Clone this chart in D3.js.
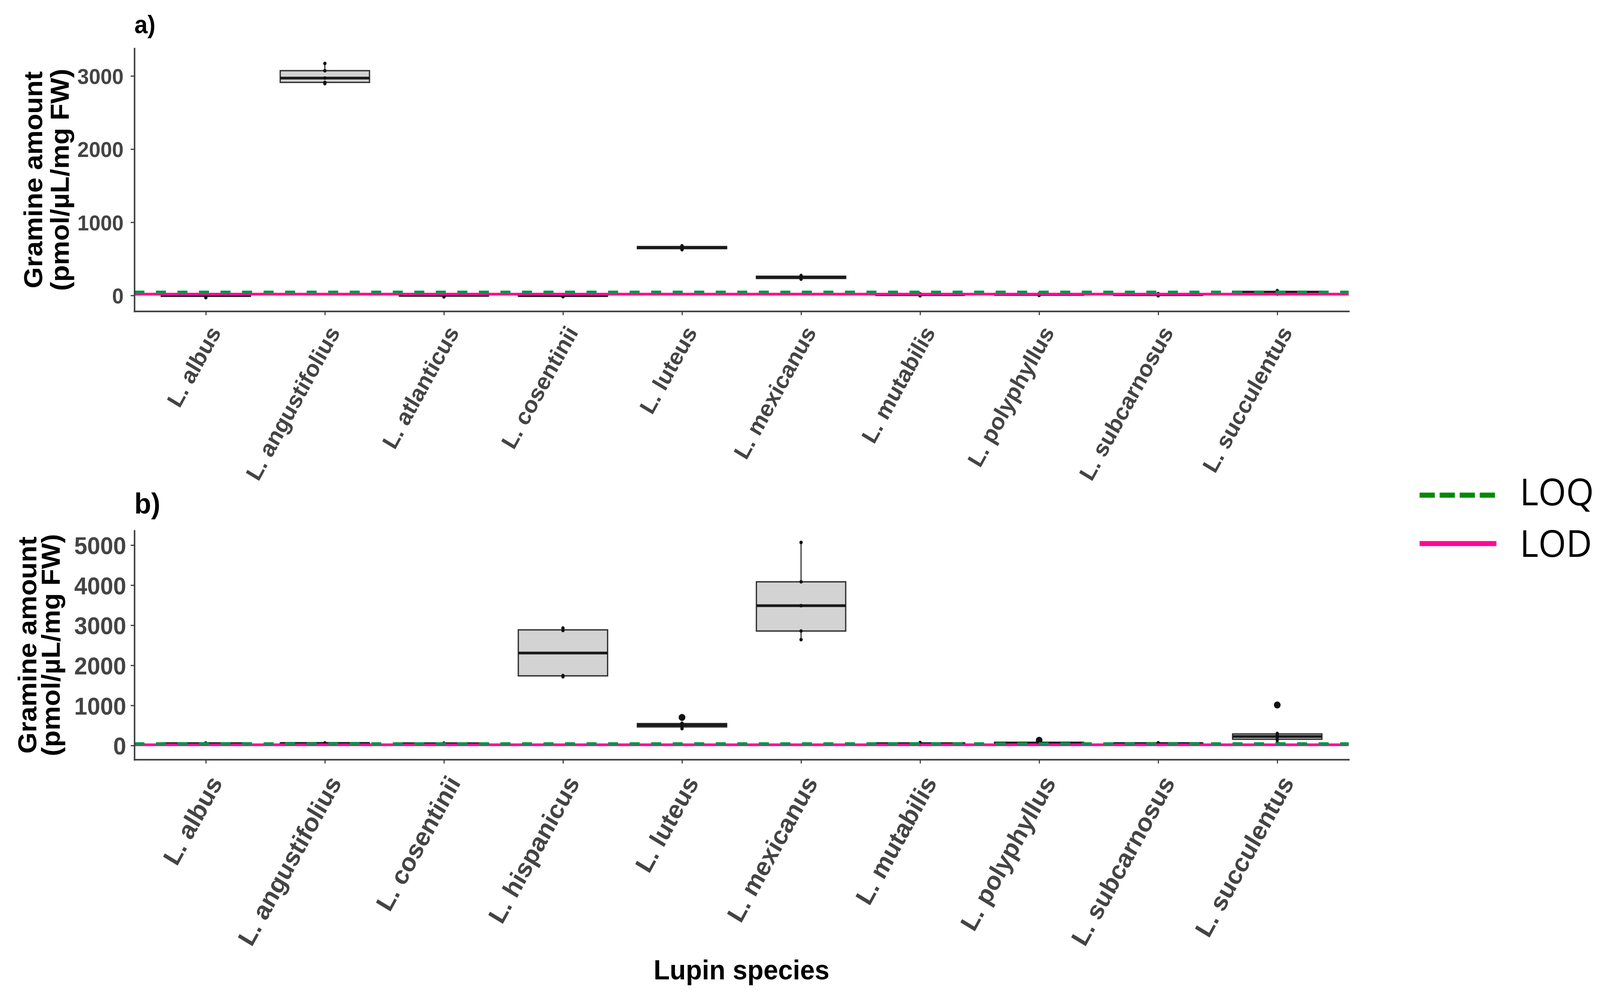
<!DOCTYPE html>
<html>
<head>
<meta charset="utf-8">
<script src="https://cdn.jsdelivr.net/npm/d3@7"></script>
<style>
  html, body { margin: 0; padding: 0; background: #fff; overflow: hidden; }
  text { font-family: "Liberation Sans", Arial, sans-serif; }
</style>
</head>
<body>
<div id="visualization"></div>
<script>
// panel a) species and gramine values (pmol/uL/mg FW)
var speciesA = ["L. albus", "L. angustifolius", "L. atlanticus", "L. cosentinii", "L. luteus",
  "L. mexicanus", "L. mutabilis", "L. polyphyllus", "L. subcarnosus", "L. succulentus"];
var gramineA = [
  [-30, -12, 0, 15, 28],
  [2895, 2912, 2971, 3072, 3170],
  [-20, -8, 2, 10, 20],
  [-18, -10, -2, 5, 12],
  [625, 640, 652, 668, 678],
  [222, 232, 248, 262, 272],
  [-5, 5, 10, 15, 22],
  [0, 5, 12, 18, 25],
  [-5, 3, 10, 16, 24],
  [18, 30, 42, 55, 66]
];

// panel b)
var speciesB = ["L. albus", "L. angustifolius", "L. cosentinii", "L. hispanicus", "L. luteus",
  "L. mexicanus", "L. mutabilis", "L. polyphyllus", "L. subcarnosus", "L. succulentus"];
var gramineB = [
  [30, 38, 45, 52, 60],
  [35, 42, 50, 56, 62],
  [28, 36, 44, 50, 58],
  [1715, 1745, 2870, 2930],
  [420, 450, 500, 520, 555, 700],
  [2641, 2856, 3489, 4084, 5068],
  [20, 30, 45, 60, 72],
  [30, 45, 60, 75, 130],
  [25, 35, 48, 58, 66],
  [70, 140, 200, 250, 300, 1010]
];

var ticksA = [0, 1000, 2000, 3000];
var ticksB = [0, 1000, 2000, 3000, 4000, 5000];

var loqValue = 47;
var lodValue = 17;
var legendLabels = ["LOQ", "LOD"];

//////////////////////////////////////////////////////////////////////////////

var width = 4310;
var height = 2548;
var plotLeft = 362;
var plotRight = 3633;
var loqColor = "#00934a";
var lodColor = "#ff0a96";

// scale the drawing to whatever the window really is
var svg = d3.select("#visualization").append("svg")
  .attr("viewBox", "0 0 " + width + " " + height)
  .attr("preserveAspectRatio", "none")
  .style("width", "100vw")
  .style("height", "100vh")
  .style("display", "block");

drawPanel(svg, {
  tag: "a)", tagSize: 64, tagY: 85,
  species: speciesA, values: gramineA, ticks: ticksA,
  top: 124, bottom: 797, domain: [-216, 3376],
  tickFont: 56, tickPad: 19, labelFont: 60,
  titleX: [114, 185]
});

drawPanel(svg, {
  tag: "b)", tagSize: 74, tagY: 1315,
  species: speciesB, values: gramineB, ticks: ticksB,
  top: 1359, bottom: 1945, domain: [-351, 5360],
  tickFont: 63, tickPad: 12, labelFont: 66,
  titleX: [98, 161]
});

svg.append("text")
  .attr("x", (plotLeft + plotRight) / 2)
  .attr("y", 2508)
  .attr("text-anchor", "middle")
  .style("font-size", "71px")
  .style("font-weight", "bold")
  .text("Lupin species");

drawLegend(svg);

//////////////////////////////////////////////////////////////////////////////

function boxStats(values) {
  var v = values.slice().sort(d3.ascending);
  var q1 = d3.quantile(v, 0.25);
  var med = d3.quantile(v, 0.5);
  var q3 = d3.quantile(v, 0.75);
  var iqr = q3 - q1;
  var inside = v.filter(function(d) { return d >= q1 - 1.5 * iqr && d <= q3 + 1.5 * iqr; });
  var out = v.filter(function(d) { return d < q1 - 1.5 * iqr || d > q3 + 1.5 * iqr; });
  return { q1: q1, med: med, q3: q3, lo: d3.min(inside), hi: d3.max(inside), out: out, all: v };
}

//////////////////////////////////////////////////////////////////////////////

function drawPanel(svg, p) {
  var x = d3.scalePoint()
    .domain(p.species)
    .range([plotLeft, plotRight])
    .padding(0.6);
  var y = d3.scaleLinear()
    .domain(p.domain)
    .range([p.bottom, p.top]);
  var boxW = x.step() * 0.75;

  var g = svg.append("g");

  var stats = p.species.map(function(s, i) {
    var b = boxStats(p.values[i]);
    b.species = s;
    return b;
  });

  // whiskers
  var box = g.selectAll(".box")
    .data(stats)
    .enter()
    .append("g")
    .attr("class", "box");

  box.append("line")
    .attr("x1", function(d) { return x(d.species); })
    .attr("x2", function(d) { return x(d.species); })
    .attr("y1", function(d) { return y(d.hi); })
    .attr("y2", function(d) { return y(d.lo); })
    .attr("stroke", "#333")
    .attr("stroke-width", 3);

  box.append("rect")
    .attr("x", function(d) { return x(d.species) - boxW / 2; })
    .attr("width", boxW)
    .attr("y", function(d) { return y(d.q3); })
    .attr("height", function(d) { return Math.max(0.5, y(d.q1) - y(d.q3)); })
    .attr("fill", "#d3d3d3")
    .attr("stroke", "#333")
    .attr("stroke-width", 3.5);

  box.append("line")
    .attr("x1", function(d) { return x(d.species) - boxW / 2; })
    .attr("x2", function(d) { return x(d.species) + boxW / 2; })
    .attr("y1", function(d) { return y(d.med); })
    .attr("y2", function(d) { return y(d.med); })
    .attr("stroke", "#1a1a1a")
    .attr("stroke-width", 7);

  // outliers
  box.selectAll(".outlier")
    .data(function(d) { return d.out.map(function(v) { return { s: d.species, v: v }; }); })
    .enter()
    .append("circle")
    .attr("cx", function(d) { return x(d.s); })
    .attr("cy", function(d) { return y(d.v); })
    .attr("r", 9)
    .attr("fill", "#111");

  // observations
  box.selectAll(".pt")
    .data(function(d) { return d.all.map(function(v) { return { s: d.species, v: v }; }); })
    .enter()
    .append("circle")
    .attr("cx", function(d) { return x(d.s); })
    .attr("cy", function(d) { return y(d.v); })
    .attr("r", 4.5)
    .attr("fill", "#111");

  // LOD / LOQ
  g.append("line")
    .attr("x1", plotLeft).attr("x2", plotRight)
    .attr("y1", y(lodValue)).attr("y2", y(lodValue))
    .attr("stroke", lodColor)
    .attr("stroke-width", 7);

  g.append("line")
    .attr("x1", plotLeft).attr("x2", plotRight)
    .attr("y1", y(loqValue)).attr("y2", y(loqValue))
    .attr("stroke", loqColor)
    .attr("stroke-width", 7)
    .attr("stroke-dasharray", "27,31");

  // add the y Axis
  var yAxis = g.append("g")
    .attr("transform", "translate(" + plotLeft + ",0)")
    .call(d3.axisLeft(y).tickValues(p.ticks).tickSize(10).tickSizeOuter(0)
      .tickPadding(p.tickPad).tickFormat(d3.format("d")));
  styleAxis(yAxis);
  yAxis.selectAll("text")
    .style("font-size", p.tickFont + "px")
    .style("font-weight", "bold")
    .attr("fill", "#444")
    .attr("dy", "0.36em");

  // add the x Axis
  var xAxis = g.append("g")
    .attr("transform", "translate(0," + p.bottom + ")")
    .call(d3.axisBottom(x).tickSize(10).tickSizeOuter(0));
  styleAxis(xAxis);
  xAxis.selectAll("text")
    .style("font-size", p.labelFont + "px")
    .style("font-weight", "bold")
    .attr("fill", "#444")
    .style("text-anchor", "end")
    .attr("x", 0)
    .attr("y", 0)
    .attr("dy", 0)
    .attr("transform", "translate(" + (p.labelFont * 0.7) + "," + (p.labelFont * 0.9) + ") rotate(-60)");

  // panel tag
  g.append("text")
    .attr("x", plotLeft)
    .attr("y", p.tagY)
    .style("font-size", p.tagSize + "px")
    .style("font-weight", "bold")
    .text(p.tag);

  // y title, two lines
  var midY = (p.top + p.bottom) / 2;
  ["Gramine amount", "(pmol/\u00b5L/mg FW)"].forEach(function(t, i) {
    g.append("text")
      .attr("transform", "translate(" + p.titleX[i] + "," + midY + ") rotate(-90)")
      .attr("text-anchor", "middle")
      .style("font-size", "70px")
      .style("font-weight", "bold")
      .text(t);
  });
}

function styleAxis(axis) {
  axis.select(".domain")
    .attr("stroke", "#3a3a3a")
    .attr("stroke-width", 4)
    .attr("stroke-linecap", "square");
  axis.selectAll(".tick line")
    .attr("stroke", "#3a3a3a")
    .attr("stroke-width", 3);
}

//////////////////////////////////////////////////////////////////////////////

function drawLegend(svg) {
  var lg = svg.append("g");
  var ys = [1268, 1392];

  lg.append("line")
    .attr("x1", 3824).attr("x2", 4027)
    .attr("y1", ys[0]).attr("y2", ys[0])
    .attr("stroke", "#008a00")
    .attr("stroke-width", 13)
    .attr("stroke-dasharray", "41,13");

  lg.append("line")
    .attr("x1", 3824).attr("x2", 4031)
    .attr("y1", ys[1]).attr("y2", ys[1])
    .attr("stroke", lodColor)
    .attr("stroke-width", 13);

  lg.selectAll(".lab")
    .data(legendLabels)
    .enter()
    .append("text")
    .attr("x", 4094)
    .attr("y", function(d, i) { return ys[i] + 26 + i * 8; })
    .style("font-family", "'Open Sans', sans-serif")
    .style("font-size", "96px")
    .text(function(d) { return d; });
}
</script>
</body>
</html>
